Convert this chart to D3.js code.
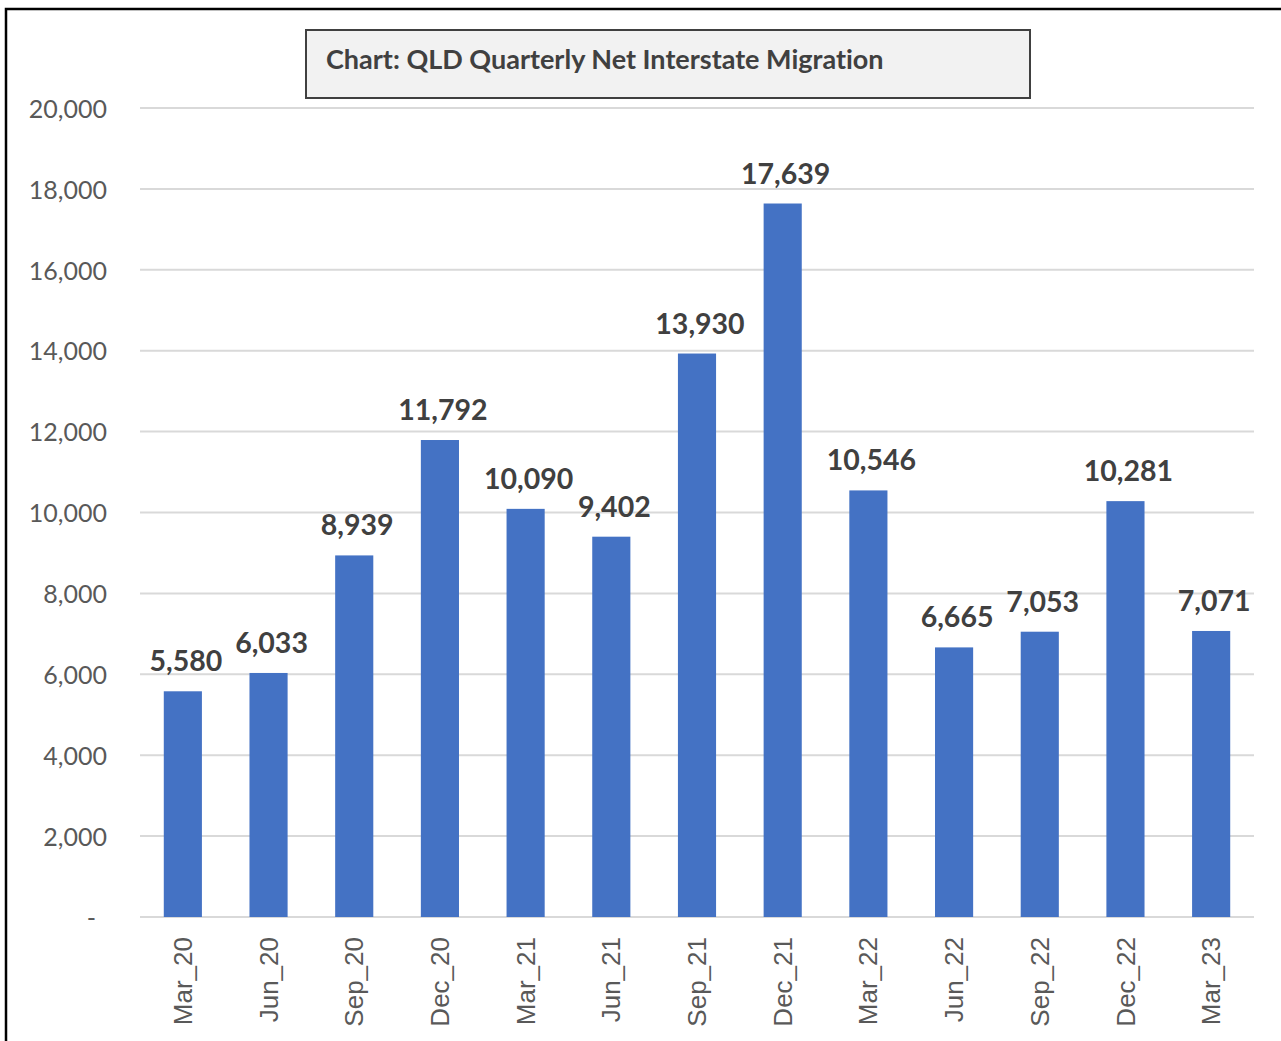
<!DOCTYPE html>
<html>
<head>
<meta charset="utf-8">
<script src="https://cdn.jsdelivr.net/npm/d3@7"></script>
<style>
  body { margin: 0; background: #fff; }
  svg { display: block; }
  text { font-variant-ligatures: none; }
</style>
</head>
<body>
<div id="chart"></div>
<script>
// chart data
const quarters = ["Mar_20", "Jun_20", "Sep_20", "Dec_20", "Mar_21", "Jun_21", "Sep_21",
                  "Dec_21", "Mar_22", "Jun_22", "Sep_22", "Dec_22", "Mar_23"];
const netMigration = [5580, 6033, 8939, 11792, 10090, 9402, 13930, 17639, 10546, 6665, 7053, 10281, 7071];
const yTicks = [0, 2000, 4000, 6000, 8000, 10000, 12000, 14000, 16000, 18000, 20000];
const chartTitle = "Chart: QLD Quarterly Net Interstate Migration";

const width = 1281, height = 1041;
const margin = {top: 108, right: 27, bottom: 124, left: 140};

const svg = d3.select("#chart").append("svg")
    .attr("width", width)
    .attr("height", height);

// outer frame (runs off right and bottom edge like the screenshot)
svg.append("rect")
    .attr("x", 6).attr("y", 9)
    .attr("width", width + 20).attr("height", height + 20)
    .attr("fill", "none")
    .attr("stroke", "#000")
    .attr("stroke-width", 2.5);

const x = d3.scaleBand()
    .domain(quarters)
    .range([margin.left, width - margin.right])
    .paddingInner(0.555)
    .paddingOuter(0.2775);

const y = d3.scaleLinear()
    .domain([0, 20000])
    .range([height - margin.bottom, margin.top]);

// gridlines
svg.append("g")
    .selectAll("line")
    .data(yTicks)
    .enter().append("line")
    .attr("x1", margin.left)
    .attr("x2", width - margin.right)
    .attr("y1", d => y(d))
    .attr("y2", d => y(d))
    .attr("stroke", "#d9d9d9")
    .attr("stroke-width", 2);

// y axis labels
const yAxis = svg.append("g")
    .attr("transform", "translate(" + (margin.left - 33) + ",0)")
    .call(d3.axisLeft(y).tickValues(yTicks).tickSize(0)
        .tickFormat(d => d === 0 ? "-" : d3.format(",")(d)));
yAxis.select(".domain").remove();
yAxis.selectAll("text")
    .attr("x", d => d === 0 ? -11 : 0)
    .attr("dy", "0.37em")
    .style("font-family", "Lato, 'Open Sans', sans-serif")
    .style("font-size", "25px")
    .attr("fill", "#595959");

// bars
svg.append("g")
    .selectAll("rect")
    .data(quarters)
    .enter().append("rect")
    .attr("x", d => x(d))
    .attr("width", x.bandwidth())
    .attr("y", (d, i) => y(netMigration[i]))
    .attr("height", (d, i) => y(0) - y(netMigration[i]))
    .attr("fill", "#4472c4");

// value labels
svg.append("g")
    .selectAll("text")
    .data(quarters)
    .enter().append("text")
    .attr("x", d => x(d) + x.bandwidth() / 2 + 3)
    .attr("y", (d, i) => y(netMigration[i]) - 20)
    .attr("text-anchor", "middle")
    .style("font-family", "Lato, 'Open Sans', sans-serif")
    .style("font-weight", "bold")
    .style("font-size", "28.5px")
    .attr("fill", "#404040")
    .text((d, i) => d3.format(",")(netMigration[i]));

// x axis labels, rotated
const xAxis = svg.append("g")
    .attr("transform", "translate(0," + (y(0) + 20) + ")")
    .call(d3.axisBottom(x).tickSize(0));
xAxis.select(".domain").remove();
xAxis.selectAll("text")
    .attr("transform", "rotate(-90)")
    .attr("x", 0)
    .attr("y", 0)
    .attr("dy", "0.35em")
    .attr("text-anchor", "end")
    .style("font-family", "'Liberation Sans', Arial, sans-serif")
    .style("font-size", "26px")
    .attr("fill", "#595959");

// title box
svg.append("rect")
    .attr("x", 306).attr("y", 30)
    .attr("width", 724).attr("height", 68)
    .attr("fill", "#f2f2f2")
    .attr("stroke", "#404040")
    .attr("stroke-width", 2);

svg.append("text")
    .attr("x", 326)
    .attr("y", 69)
    .style("font-family", "Lato, 'Open Sans', sans-serif")
    .style("font-weight", "bold")
    .style("font-size", "27px")
    .attr("fill", "#404040")
    .text(chartTitle);
</script>
</body>
</html>
